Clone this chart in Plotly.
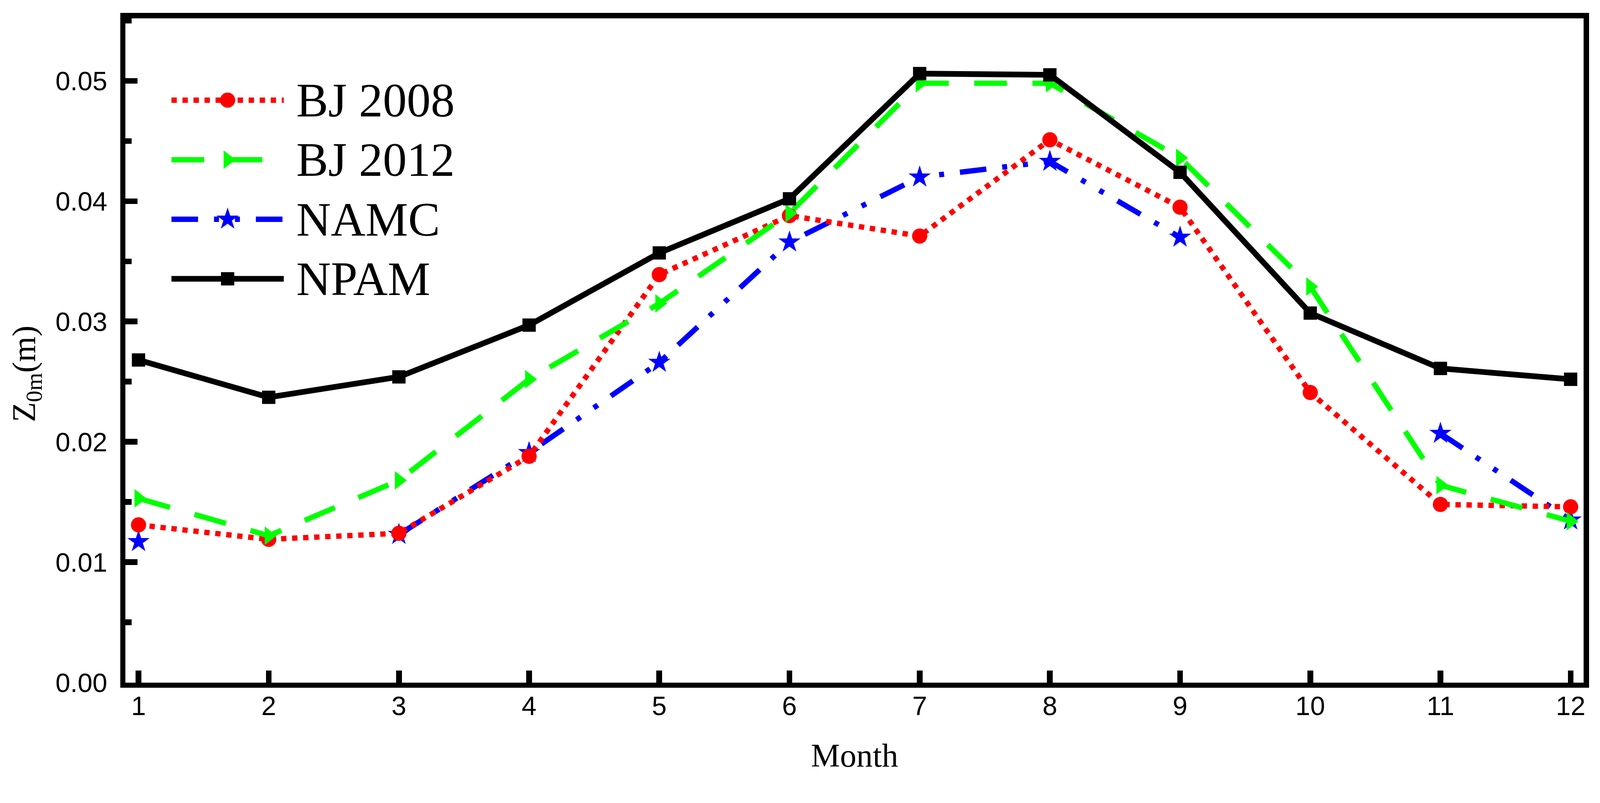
import plotly.graph_objects as go

# monthly aerodynamic roughness length (m)
months = list(range(1, 13))
bj2008 = [0.0131, 0.0119, 0.0124, 0.0188, 0.0339, 0.0388, 0.0371, 0.0451, 0.0395, 0.0241, 0.0148, 0.0146]
bj2012 = [0.0153, 0.0122, 0.0168, 0.0252, 0.0315, 0.0390, 0.0498, 0.0498, 0.0436, 0.0329, 0.0164, 0.0134]
namc = [0.0117, None, 0.0123, 0.0191, 0.0266, 0.0366, 0.0420, 0.0433, 0.0370, None, 0.0207, 0.0135]
npam = [0.0268, 0.0237, 0.0254, 0.0297, 0.0357, 0.0402, 0.0506, 0.0505, 0.0424, 0.0307, 0.0261, 0.0252]

legend_names = ["BJ 2008", "BJ 2012", "NAMC", "NPAM"]

# line / marker style per series
styles = {
    "BJ 2008": dict(color="#FF0000", dash="14px,15px", width=14, symbol="circle", size=40),
    "BJ 2012": dict(color="#00FF00", dash="86px,67px", width=14, symbol="triangle-right", size=42),
    "NAMC": dict(color="#0000FF", dash="70px,42px,13px,42px,13px,42px", width=14, symbol="star", size=44),
    "NPAM": dict(color="#000000", dash="solid", width=15, symbol="square", size=35),
}

series = {"BJ 2008": bj2008, "BJ 2012": bj2012, "NAMC": namc, "NPAM": npam}

serif = "Liberation Serif, Times New Roman, serif"
W, H = 4207, 2055

fig = go.Figure()

# draw order: bottom to top
for name in ["NAMC", "BJ 2008", "BJ 2012", "NPAM"]:
    s = styles[name]
    fig.add_trace(go.Scatter(
        x=months, y=series[name], mode="lines+markers", name=name,
        connectgaps=False, showlegend=False, cliponaxis=False,
        line=dict(color=s["color"], width=s["width"], dash=s["dash"]),
        marker=dict(color=s["color"], symbol=s["symbol"], size=s["size"]),
    ))

# hand-built legend with long line samples on a hidden inset axis
for row, name in enumerate(legend_names):
    s = styles[name]
    fig.add_trace(go.Scatter(
        x=[0, 1], y=[row, row], mode="lines", xaxis="x2", yaxis="y2",
        showlegend=False, hoverinfo="skip",
        line=dict(color=s["color"], width=s["width"], dash=s["dash"]),
    ))
    fig.add_trace(go.Scatter(
        x=[0.5], y=[row], mode="markers", xaxis="x2", yaxis="y2",
        showlegend=False, hoverinfo="skip", cliponaxis=False,
        marker=dict(color=s["color"], symbol=s["symbol"], size=s["size"]),
    ))
    fig.add_annotation(
        text=name, xref="paper", yref="y2", x=0.1166, y=row,
        xanchor="left", yanchor="middle", showarrow=False,
        font=dict(family=serif, size=126, color="black"),
    )

# y axis title with subscript
fig.add_annotation(
    text="Z<sub>0m</sub>(m)", xref="paper", yref="paper", x=-0.068, y=0.465,
    textangle=-90, showarrow=False, xanchor="center", yanchor="middle",
    font=dict(family=serif, size=86, color="black"),
)

tick_font = dict(family="Liberation Sans, Arial, sans-serif", size=70, color="black")

fig.update_layout(
    width=W, height=H,
    margin=dict(l=330, r=43, t=48, b=261),
    plot_bgcolor="white", paper_bgcolor="white",
    xaxis=dict(
        range=[0.9, 12.1], tickmode="linear", tick0=1, dtick=1,
        ticks="inside", ticklen=32, tickwidth=15, tickcolor="black",
        showline=True, linewidth=14, linecolor="black", mirror=True,
        showgrid=False, zeroline=False, tickfont=tick_font, ticklabelstandoff=-12,
        title=dict(text="Month", standoff=67, font=dict(family=serif, size=86, color="black")),
    ),
    yaxis=dict(
        range=[0, 0.0552], tickmode="linear", tick0=0, dtick=0.01, tickformat=".2f",
        ticks="inside", ticklen=32, tickwidth=15, tickcolor="black",
        minor=dict(dtick=0.005, ticks="inside", ticklen=16, tickwidth=15, tickcolor="black", showgrid=False),
        showline=True, linewidth=14, linecolor="black", mirror=True,
        showgrid=False, zeroline=False, tickfont=tick_font, ticklabelstandoff=20,
    ),
    xaxis2=dict(domain=[0.02765, 0.1124], range=[-0.05, 1.05], visible=False, anchor="y2"),
    yaxis2=dict(domain=[0.563, 0.9215], range=[3.5, -0.5], visible=False, anchor="x2"),
)

# fit the fixed-size figure into the actual viewport (no page margin, no scrollbars)
fit_js = (
    "document.body.style.margin='0';document.body.style.overflow='hidden';"
    "var gd=document.getElementById('{plot_id}');"
    "var s=Math.min(window.innerWidth/%d, window.innerHeight/%d);"
    "gd.style.transformOrigin='0 0';gd.style.transform='scale('+s+')';" % (W, H)
)

fig.write_html("out.html", config={"displayModeBar": False}, post_script=fit_js)
